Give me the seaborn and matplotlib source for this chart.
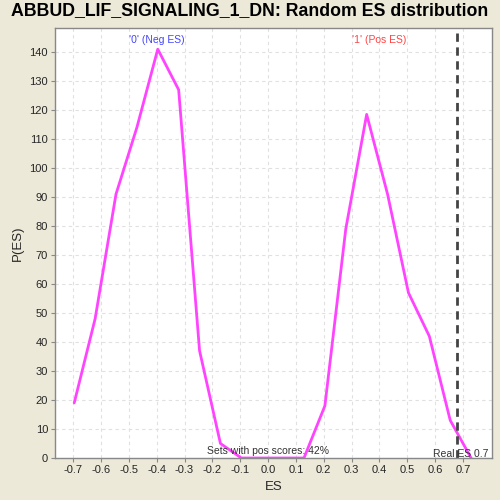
import matplotlib
matplotlib.use("Agg")
import matplotlib.pyplot as plt
import seaborn as sns
import pandas as pd

es = [-0.696, -0.621, -0.546, -0.471, -0.396, -0.321, -0.246, -0.171, -0.096, -0.021,
      0.054, 0.129, 0.204, 0.279, 0.354, 0.429, 0.504, 0.579, 0.654, 0.729]
p_es = [19, 48, 91, 114, 141, 127, 37, 5, 0, 0,
        0, 0, 18, 79, 118.5, 91, 57, 42, 13, 0]
real_es = 0.678
x_ticks = [-0.7, -0.6, -0.5, -0.4, -0.3, -0.2, -0.1, 0.0, 0.1, 0.2, 0.3, 0.4, 0.5, 0.6, 0.7]
y_ticks = list(range(0, 141, 10))

df = pd.DataFrame({"ES": es, "P(ES)": p_es})

sns.set_style("whitegrid")
plt.rcParams["font.family"] = ["Liberation Sans", "DejaVu Sans"]

fig = plt.figure(figsize=(5, 5), dpi=100, facecolor="#ECE9D8")
ax = fig.add_axes([0.11, 0.084, 0.874, 0.86])
ax.set_facecolor("white")

sns.lineplot(data=df, x="ES", y="P(ES)", ax=ax, color="#FF44FF", linewidth=2)
ax.axvline(real_es, color="#444444", linestyle=(0, (3, 2)), linewidth=2)

ax.set_xlim(-0.765, 0.804)
ax.set_ylim(0, 148.3)
ax.set_xticks(x_ticks)
ax.set_xticklabels([f"{t:.1f}" for t in x_ticks])
ax.set_yticks(y_ticks)
ax.tick_params(labelsize=8, length=3, color="#888888", left=True, bottom=True, pad=2)
ax.grid(True, color="#E0E0E0", linestyle=(0, (3, 3)), linewidth=0.8)
for s in ax.spines.values():
    s.set_color("#888888")
    s.set_linewidth(1)

ax.set_xlabel("ES", fontsize=9.5)
ax.set_ylabel("P(ES)", fontsize=9.5)
fig.suptitle("ABBUD_LIF_SIGNALING_1_DN: Random ES distribution",
             fontsize=12.8, fontweight="bold", y=0.995, color="black")

ax.text(-0.4, 146, "'0' (Neg ES)", color="#4444FF", fontsize=7.5, ha="center", va="top")
ax.text(0.4, 146, "'1' (Pos ES)", color="#FF4444", fontsize=7.5, ha="center", va="top")
ax.text(0.0, 0.8, "Sets with pos scores: 42%", color="#333333", fontsize=7.5, ha="center", va="bottom")
ax.text(0.79, -0.5, "Real ES 0.7", color="#333333", fontsize=7.5, ha="right", va="bottom")

fig.savefig("out.png", dpi=100, facecolor=fig.get_facecolor())
